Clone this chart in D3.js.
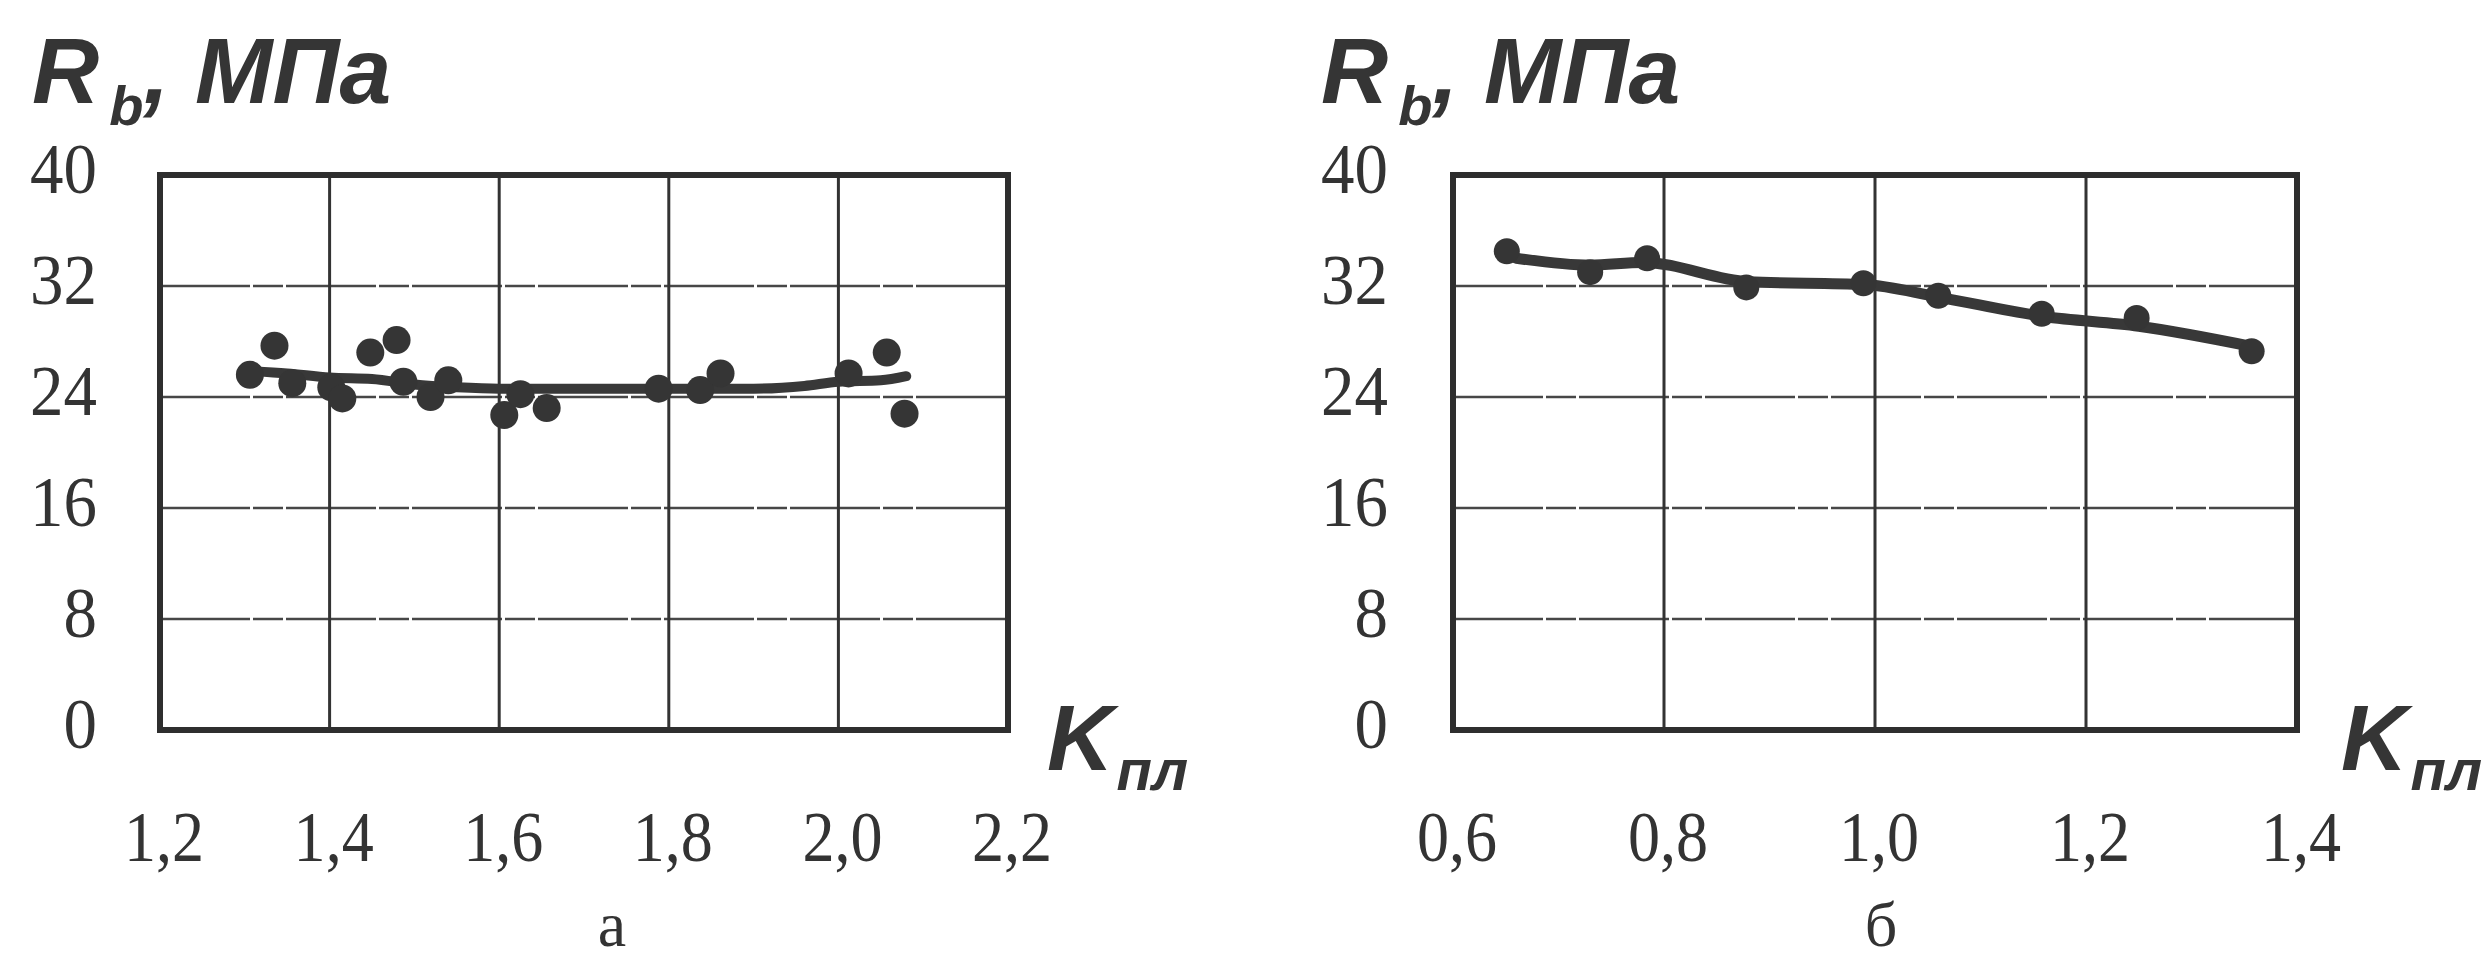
<!DOCTYPE html>
<html>
<head>
<meta charset="utf-8">
<script src="https://cdn.jsdelivr.net/npm/d3@7"></script>
<style>
body { margin: 0; background: #fff; }
svg { display: block; background: #fff; }
.tick-label text { font-family: "Liberation Serif", "Times New Roman", serif; font-size: 72px; fill: #333; }
.axis-title { font-family: "Liberation Sans", Arial, sans-serif; font-weight: bold; font-style: italic; fill: #353535; }
.caption { font-family: "Liberation Serif", "Times New Roman", serif; font-size: 64px; fill: #333; }
</style>
</head>
<body>
<svg id="chart" width="2490" height="962"></svg>
<script>
var yTicks = [0, 8, 16, 24, 32, 40];

// panel а
var xTicksA = [1.2, 1.4, 1.6, 1.8, 2.0, 2.2];
var pointsXA = [1.306, 1.335, 1.356, 1.402, 1.415, 1.448, 1.479, 1.487, 1.519, 1.540, 1.606, 1.625, 1.656, 1.788, 1.837, 1.861, 2.012, 2.057, 2.078];
var pointsYA = [25.6, 27.7, 25.0, 24.7, 23.9, 27.2, 28.1, 25.1, 24.0, 25.2, 22.7, 24.2, 23.2, 24.6, 24.5, 25.7, 25.7, 27.2, 22.8];
var trendXA = [1.30, 1.35, 1.40, 1.45, 1.50, 1.55, 1.60, 1.70, 1.80, 1.90, 1.96, 2.00, 2.05, 2.08];
var trendYA = [25.9, 25.7, 25.4, 25.3, 24.9, 24.7, 24.6, 24.6, 24.6, 24.6, 24.8, 25.1, 25.2, 25.5];

// panel б
var xTicksB = [0.6, 0.8, 1.0, 1.2, 1.4];
var pointsXB = [0.651, 0.730, 0.784, 0.878, 0.989, 1.060, 1.158, 1.248, 1.357];
var pointsYB = [34.5, 33.0, 34.0, 31.9, 32.2, 31.3, 30.0, 29.7, 27.3];
var trendXB = [0.66, 0.73, 0.78, 0.88, 0.99, 1.06, 1.16, 1.25, 1.36];
var trendYB = [34.0, 33.5, 33.7, 32.3, 32.1, 31.2, 29.8, 29.1, 27.6];

var svg = d3.select("#chart");

function fmtComma(d) {
    return d3.format(".1f")(d).replace(".", ",");
}

function drawPanel(cfg) {
    var top = 175, bottom = 730;
    var x = d3.scaleLinear().domain(cfg.xDomain).range([cfg.left, cfg.right]);
    var y = d3.scaleLinear().domain([0, 40]).range([bottom, top]);
    var g = svg.append("g");

    // grid
    g.selectAll(".hgrid").data(yTicks.slice(1, -1)).enter().append("line")
        .attr("x1", cfg.left).attr("x2", cfg.right)
        .attr("y1", function (d) { return y(d); }).attr("y2", function (d) { return y(d); })
        .attr("stroke", "#474747").attr("stroke-width", 2.6)
        .attr("stroke-dasharray", "90,3,30,3");
    g.selectAll(".vgrid").data(cfg.xTicks.slice(1, -1)).enter().append("line")
        .attr("x1", function (d) { return x(d); }).attr("x2", function (d) { return x(d); })
        .attr("y1", top).attr("y2", bottom)
        .attr("stroke", "#333").attr("stroke-width", 3);

    g.append("rect")
        .attr("x", cfg.left).attr("y", top)
        .attr("width", cfg.right - cfg.left).attr("height", bottom - top)
        .attr("fill", "none").attr("stroke", "#2e2e2e").attr("stroke-width", 6);

    // tick labels
    var xAxis = g.append("g").attr("class", "tick-label")
        .attr("transform", "translate(0," + bottom + ")")
        .call(d3.axisBottom(x).tickValues(cfg.xTicks).tickSize(0).tickFormat(fmtComma));
    xAxis.select(".domain").remove();
    xAxis.selectAll("text").attr("y", 131).attr("dy", null).attr("x", 4)
        .attr("transform", "scale(0.89,1)");

    var yAxis = g.append("g").attr("class", "tick-label")
        .attr("transform", "translate(" + cfg.labelRight + ",0)")
        .call(d3.axisLeft(y).tickValues(yTicks).tickSize(0));
    yAxis.select(".domain").remove();
    yAxis.selectAll("text").attr("x", 0).attr("dy", null).attr("y", 17)
        .attr("transform", "scale(0.93,1)");

    // trend and points
    var trend = cfg.trendX.map(function (d, i) { return [d, cfg.trendY[i]]; });
    var line = d3.line()
        .x(function (d) { return x(d[0]); })
        .y(function (d) { return y(d[1]); })
        .curve(d3.curveMonotoneX);
    g.append("path").datum(trend)
        .attr("d", line)
        .attr("fill", "none").attr("stroke", "#383838")
        .attr("stroke-width", cfg.lineWidth).attr("stroke-linecap", "round").attr("stroke-linejoin", "round");

    var pts = cfg.pointsX.map(function (d, i) { return [d, cfg.pointsY[i]]; });
    g.selectAll(".pt").data(pts).enter().append("circle")
        .attr("cx", function (d) { return x(d[0]); })
        .attr("cy", function (d) { return y(d[1]); })
        .attr("r", cfg.r)
        .attr("fill", "#353535");

    // titles
    var t = g.append("text").attr("class", "axis-title")
        .attr("x", cfg.titleX).attr("y", 103).style("font-size", "93px");
    t.append("tspan").text("R");
    t.append("tspan").attr("dx", 10).attr("dy", 22).style("font-size", "56px").text("b");
    t.append("tspan").attr("dy", -22).text(", МПа");

    var k = g.append("text").attr("class", "axis-title")
        .attr("x", cfg.right + cfg.kOffset).attr("y", 770).style("font-size", "92px");
    k.append("tspan").text("K");
    k.append("tspan").attr("dx", 3).attr("dy", 20).style("font-size", "58px").text("пл");

    g.append("text").attr("class", "caption")
        .attr("x", cfg.captionX).attr("y", 946)
        .attr("text-anchor", "middle").text(cfg.caption);
}

drawPanel({
    left: 160, right: 1008, xDomain: [1.2, 2.2], xTicks: xTicksA,
    pointsX: pointsXA, pointsY: pointsYA, trendX: trendXA, trendY: trendYA,
    r: 14, lineWidth: 10, labelRight: 97, titleX: 32, kOffset: 39, caption: "а", captionX: 612
});

drawPanel({
    left: 1453, right: 2297, xDomain: [0.6, 1.4], xTicks: xTicksB,
    pointsX: pointsXB, pointsY: pointsYB, trendX: trendXB, trendY: trendYB,
    r: 13, lineWidth: 11, labelRight: 1388, titleX: 1321, kOffset: 44, caption: "б", captionX: 1881
});
</script>
</body>
</html>
